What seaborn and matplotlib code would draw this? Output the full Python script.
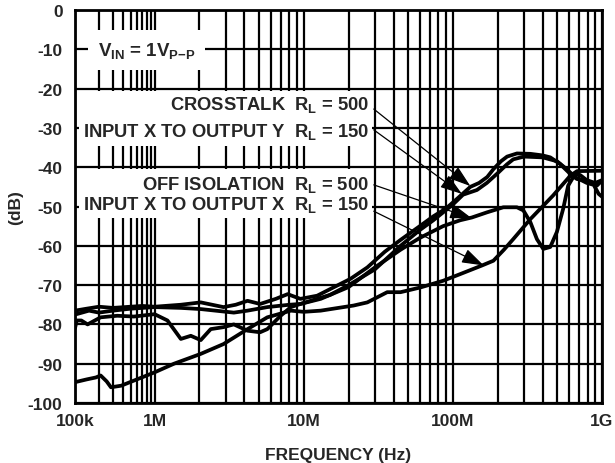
import numpy as np
import matplotlib
matplotlib.use('Agg')
import matplotlib.pyplot as plt
import seaborn as sns
from matplotlib.patches import Rectangle

# curves (frequency in Hz, level in dB)
ct500_f = [1e5, 1.4e5, 2e5, 3e5, 5e5, 7e5, 1e6, 1.5e6, 2.04e6, 2.9e6, 3.5e6, 4.2e6, 5.1e6, 6.5e6,
           7.8e6, 9.5e6, 12.3e6, 16e6, 20.6e6, 26.7e6, 35e6, 44.6e6, 60e6, 74e6, 90e6, 107e6, 131e6,
           150e6, 170e6, 187e6, 210e6, 231e6, 269e6, 331e6, 400e6, 450e6, 524e6, 612e6, 678e6,
           791e6, 923e6, 1e9]
ct500_db = [-76.5, -76, -75.5, -75.8, -75.5, -75.3, -75.5, -75, -74.4, -75.6, -75, -74, -74.8, -73.5,
            -72.3, -73.5, -72.7, -70.5, -68.4, -65.5, -61.5, -58.5, -55, -52.5, -50.5, -48, -45,
            -44, -42.5, -40.5, -38.5, -37.3, -36.5, -36.6, -37, -37.5, -39.2, -41.7, -43, -43.4,
            -44.7, -43.4]

ct150_f = [1e5, 1.05e5, 1.2e5, 1.44e5, 2.1e5, 3.4e5, 5.5e5, 1e6, 1.22e6, 1.5e6, 1.75e6, 2.04e6,
           2.38e6, 2.9e6, 3.4e6, 4.2e6, 5.1e6, 5.7e6, 7e6, 8.2e6, 9.5e6, 15e6, 20e6, 30e6, 44.6e6,
           60e6, 74e6, 100e6, 117e6, 145e6, 169e6, 200e6, 230e6, 254e6, 300e6, 400e6, 500e6, 580e6,
           660e6, 790e6, 880e6, 950e6, 1e9]
ct150_db = [-81, -79, -79, -80, -78.2, -77.8, -78, -77.4, -79, -83.7, -82.9, -84, -81.2, -80.7, -80,
            -81.6, -82, -81.2, -77.8, -75.6, -74.8, -72.5, -70, -66, -60, -56, -53.5, -49.5, -47,
            -45.8, -44, -41.5, -39.3, -38, -37.3, -37.5, -38.5, -40.5, -42.5, -44, -44.5, -46.8,
            -47.5]

oi500_f = [1e5, 1.5e5, 2e5, 3e5, 5e5, 1e6, 1.5e6, 2.04e6, 3.4e6, 4.2e6, 5.7e6, 8e6, 9.5e6, 13e6,
           20e6, 30e6, 44.6e6, 60e6, 86e6, 112e6, 134e6, 169e6, 218e6, 269e6, 297e6, 331e6, 366e6,
           404e6, 450e6, 498e6, 549e6, 593e6, 661e6, 714e6, 790e6, 900e6, 1e9]
oi500_db = [-77.5, -76.5, -77, -76.5, -76, -75.6, -75.8, -76.1, -77, -76.5, -75.6, -75, -74.8, -73.5,
            -70.5, -65.5, -61, -58, -55, -53.5, -52.8, -51.5, -50.2, -50.2, -51, -54, -58.3, -60.8,
            -60.3, -56.5, -50.6, -44.7, -41.7, -42, -43.3, -44, -43.3]

oi150_f = [1e5, 1.4e5, 1.83e5, 2.1e5, 2.5e5, 2.83e5, 3.8e5, 5.5e5, 1e6, 1.35e6, 2.04e6, 2.9e6,
           4.2e6, 5.7e6, 8.2e6, 10e6, 13e6, 15.8e6, 21.6e6, 26.7e6, 36.3e6, 44.6e6, 60.6e6, 86e6,
           112e6, 157e6, 187e6, 220e6, 254e6, 331e6, 470e6, 612e6, 680e6, 1e9]
oi150_db = [-94.7, -94, -93.5, -93, -94.5, -96, -95.6, -94.3, -92.2, -90, -87.5, -85, -81.2, -78.2,
            -76.5, -76.8, -76.5, -76, -75.2, -74.4, -71.8, -71.8, -70.6, -68.9, -67.2, -65, -63.8,
            -61, -58.3, -53.2, -47.2, -42.2, -41, -40.9]

x_ticks = [1e5, 1e6, 1e7, 1e8, 1e9]
x_labels = ['100k', '1M', '10M', '100M', '1G']
y_ticks = [0, -10, -20, -30, -40, -50, -60, -70, -80, -90, -100]
y_labels = ['0', '-10', '-20', '-30', '-40', '-50', '-60', '-70', '-80', '-90', '-100']

# labels and arrows (tail -> head)
notes = ['CROSSTALK  R$_{L}$ = 500', 'INPUT X TO OUTPUT Y  R$_{L}$ = 150',
         'OFF ISOLATION  R$_{L}$ = 500', 'INPUT X TO OUTPUT X  R$_{L}$ = 150']
note_y = [-23.9, -30.7, -44.2, -49.4]
arrow_tail = [(2.95e7, -25.2), (2.95e7, -30.5), (2.95e7, -44.5), (2.95e7, -51.2)]
arrow_head = [(1.31e8, -44.8), (1.15e8, -46.8), (1.34e8, -53.0), (1.61e8, -65.0)]

sns.set_style('white')
plt.rcParams['font.family'] = ['Liberation Sans', 'DejaVu Sans']
plt.rcParams['font.weight'] = 'bold'
plt.rcParams['axes.labelweight'] = 'bold'
plt.rcParams['mathtext.fontset'] = 'custom'
plt.rcParams['mathtext.rm'] = 'Liberation Sans:bold'
plt.rcParams['mathtext.it'] = 'Liberation Sans:bold'
plt.rcParams['mathtext.bf'] = 'Liberation Sans:bold'

# the first decade of the original chart is squeezed to about half width
K = 0.5335
def fwd(x):
    lx = np.log10(np.clip(x, 1e-12, None))
    return np.where(lx < 6, 6 - (6 - lx) * K, lx)
def inv(u):
    u = np.asarray(u, dtype=float)
    return np.where(u < 6, 10 ** (6 - (6 - u) / K), 10 ** u)

fig = plt.figure(figsize=(6.15, 4.64), dpi=100)
ax = fig.add_axes([75 / 615, 60 / 464, 527 / 615, 393 / 464])
ax.set_xscale('function', functions=(fwd, inv))
ax.set_xlim(1e5, 1e9)
ax.set_ylim(-100, 0)

for f, db in [(oi150_f, oi150_db), (oi500_f, oi500_db), (ct150_f, ct150_db), (ct500_f, ct500_db)]:
    sns.lineplot(x=f, y=db, ax=ax, color='black', lw=2.7, estimator=None, sort=False, zorder=3)

minors = [k * 10 ** d for d in range(5, 9) for k in range(2, 10)]
ax.set_xticks(x_ticks)
ax.set_xticklabels(x_labels)
ax.set_xticks(minors, minor=True)
ax.set_yticks(y_ticks)
ax.set_yticklabels(y_labels)
ax.grid(True, which='both', color='black', lw=1.6)
ax.tick_params(which='both', length=0, labelsize=12.5)
ax.tick_params(axis='y', pad=9)
ax.tick_params(axis='x', pad=7)
for s in ax.spines.values():
    s.set_linewidth(2)
    s.set_color('black')
    s.set_zorder(5)

# white panels behind the labels hide the grid
for y0, y1 in [(-34.5, -20.5), (-53.0, -40.5)]:
    ax.add_patch(Rectangle((1.12e5, y0), 2.85e7 - 1.12e5, y1 - y0, facecolor='white',
                           edgecolor='none', zorder=2))

ax.text(1.95e5, -10.2, 'V$_{IN}$ = 1V$_{P{-}P}$', fontsize=13.5, ha='left', va='center', zorder=4,
        bbox=dict(facecolor='white', edgecolor='none', pad=7))
for t, y in zip(notes, note_y):
    ax.text(2.75e7, y, t, fontsize=13.2, ha='right', va='center', zorder=4)
for (tx, ty), (hx, hy) in zip(arrow_tail, arrow_head):
    ax.annotate('', xy=(hx, hy), xytext=(tx, ty), zorder=4,
                arrowprops=dict(arrowstyle='-|>,head_length=0.9,head_width=0.3', color='black',
                                lw=0.9, mutation_scale=15, shrinkA=0, shrinkB=0))

ax.set_xlabel('FREQUENCY (Hz)', fontsize=12.5, labelpad=14)
ax.set_ylabel('(dB)', fontsize=12.5, labelpad=3)
fig.savefig('out.png', dpi=100)
